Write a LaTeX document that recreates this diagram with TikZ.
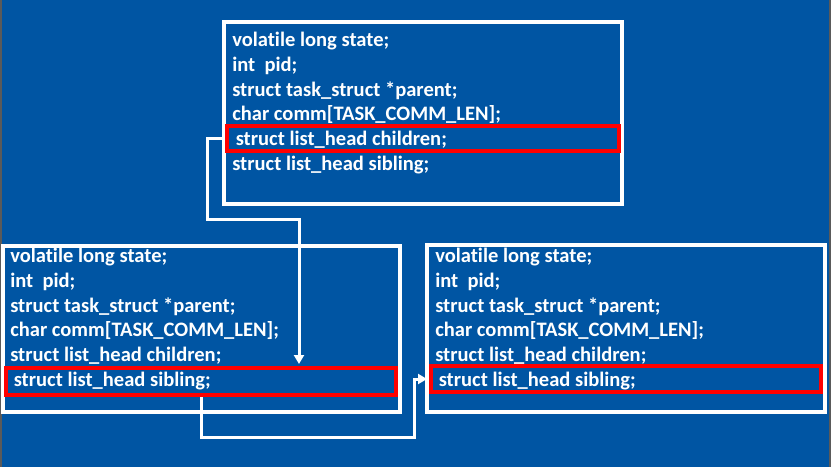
\documentclass[tikz,border=0pt]{standalone}
\usepackage{fontspec}
\setmainfont{Carlito}[Ligatures=NoCommon]
\usetikzlibrary{arrows.meta}
\definecolor{slideblue}{RGB}{0,85,163}
\definecolor{edgegray}{RGB}{90,90,90}

\begin{document}
\begin{tikzpicture}[x=0.75pt, y=-0.75pt,
  field/.style={anchor=base west, inner sep=0pt, text=white, font=\bfseries\fontsize{15.4}{18}\selectfont},
  taskbox/.style={draw=white, line width=3pt, inner sep=0pt},
  hilite/.style={draw=red, line width=3pt, inner sep=0pt},
  link/.style={draw=white, line width=2.25pt, shorten >=1.5pt}]
\fill[edgegray] (0,0) rectangle (831,467);
\fill[slideblue] (2,0) rectangle (829,467);
% parent and the two children
\node[taskbox, minimum width=298.5pt, minimum height=136.5pt] (parent) at (423,113) {};
\node[taskbox, minimum width=297.4pt, minimum height=124.5pt] (childL) at (201.75,329) {};
\node[taskbox, minimum width=298.5pt, minimum height=125.25pt] (childR) at (626,328.5) {};
\foreach \bx/\x/\y/\hl in {par/232/46.5/5, left/10/262.5/6, right/435/262.5/6} {
  \foreach \txt [count=\i] in {volatile long state;, int\ \ pid;, struct task\_struct *parent;, char comm[TASK\_COMM\_LEN];, struct list\_head children;, struct list\_head sibling;} {
    \ifnum\i=\hl \def\dx{3.5}\else\def\dx{0}\fi
    \node[field] (\bx-\i) at (\x+\dx, \y+\i*24.75-24.75) {\txt};
  }
}
% highlighted list heads
\node[hilite, minimum width=294pt, minimum height=18.75pt] (kid) at (423,138.5) {};
\node[hilite, minimum width=292.5pt, minimum height=20.25pt] (sibL) at (201,381.5) {};
\node[hilite, minimum width=292.5pt, minimum height=19.5pt] (sibR) at (626,379) {};
\coordinate (turnA) at (207.5,219.5);
\coordinate (dropA) at (299,219.5);
\coordinate (turnB) at (414.5,437.5);
\draw[link, -{Triangle[width=7.5pt,length=6.75pt]}] (kid.west) -| (turnA) -- (dropA) -- (dropA |- sibL.north);
\draw[link, -{Triangle[width=7.5pt,length=6.75pt]}] (sibL.south) |- (turnB) |- (sibR.west);
\end{tikzpicture}
\end{document}
